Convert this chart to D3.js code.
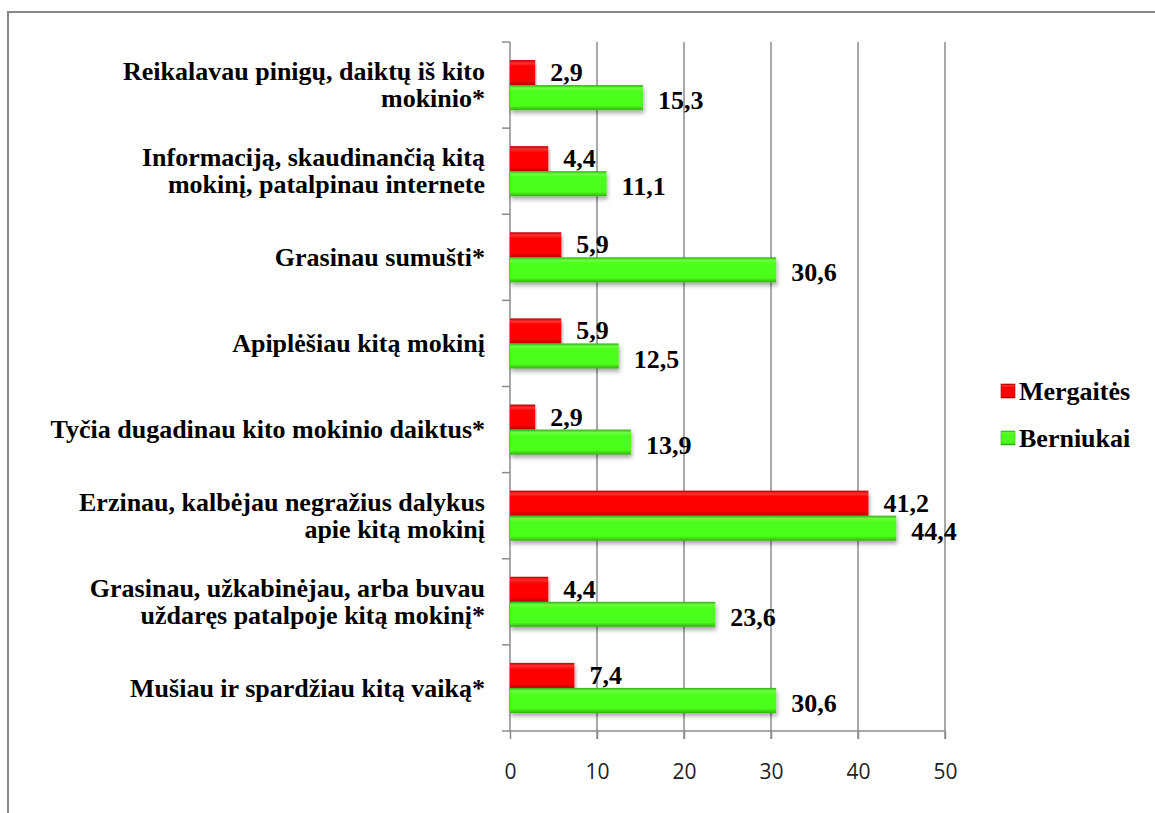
<!DOCTYPE html>
<html><head><meta charset="utf-8">
<script src="https://cdn.jsdelivr.net/npm/d3@7"></script>
<style>body{margin:0;background:#fff;}svg{display:block;}</style>
</head><body>
<script>
const categories = [
  ["Reikalavau pinigų, daiktų iš kito", "mokinio*"],
  ["Informaciją, skaudinančią kitą", "mokinį, patalpinau internete"],
  ["Grasinau sumušti*"],
  ["Apiplėšiau kitą mokinį"],
  ["Tyčia dugadinau kito mokinio daiktus*"],
  ["Erzinau, kalbėjau negražius dalykus", "apie kitą mokinį"],
  ["Grasinau, užkabinėjau, arba buvau", "uždaręs patalpoje kitą mokinį*"],
  ["Mušiau ir spardžiau kitą vaiką*"]
];
const girls = [2.9, 4.4, 5.9, 5.9, 2.9, 41.2, 4.4, 7.4];
const boys  = [15.3, 11.1, 30.6, 12.5, 13.9, 44.4, 23.6, 30.6];
const seriesNames = ["Mergaitės", "Berniukai"];
const xTicks = [0, 10, 20, 30, 40, 50];

const W = 1155, H = 813;
const svg = d3.select("body").append("svg").attr("width", W).attr("height", H);
const defs = svg.append("defs");

function grad(id, edge, mid, light) {
  const g = defs.append("linearGradient").attr("id", id).attr("x1",0).attr("y1",0).attr("x2",0).attr("y2",1);
  g.append("stop").attr("offset","0%").attr("stop-color", edge);
  g.append("stop").attr("offset","12%").attr("stop-color", light);
  g.append("stop").attr("offset","25%").attr("stop-color", mid);
  g.append("stop").attr("offset","82%").attr("stop-color", mid);
  g.append("stop").attr("offset","100%").attr("stop-color", edge);
}
grad("gRed", "#b80000", "#ff0000", "#ff3030");
grad("gGreen", "#33b011", "#4cff1a", "#6cff40");
const f = defs.append("filter").attr("id","sh").attr("x","-5%").attr("y","-30%").attr("width","110%").attr("height","180%");
f.append("feDropShadow").attr("dx",1).attr("dy",3).attr("stdDeviation",2).attr("flood-color","#000").attr("flood-opacity",0.35);

// outer border
svg.append("rect").attr("x",8).attr("y",12).attr("width",1160).attr("height",820)
  .attr("fill","none").attr("stroke","#888").attr("stroke-width",2);

const x0 = 510, x1 = 945, yTop = 42, yBot = 731;
const x = d3.scaleLinear().domain([0, 50]).range([x0, x1]);
const y = d3.scaleBand().domain(d3.range(categories.length)).range([yTop, yBot]);
const sub = d3.scaleBand().domain([0,1]).range([0, y.bandwidth()]).paddingOuter(0.72).paddingInner(0);

// gridlines
svg.append("g").selectAll("line").data(xTicks.slice(1)).join("line")
  .attr("x1", d => x(d)).attr("x2", d => x(d)).attr("y1", yTop).attr("y2", yBot + 8)
  .attr("stroke", "#8c8c8c").attr("stroke-width", 1.5);

// x axis
const xAxis = svg.append("g").attr("transform", `translate(0,${yBot})`)
  .call(d3.axisBottom(x).tickValues(xTicks).tickSize(8).tickPadding(25).tickSizeOuter(0));
xAxis.select(".domain").remove();
xAxis.selectAll(".tick line").attr("stroke", "#8c8c8c").attr("stroke-width", 1.5);
xAxis.selectAll("text").attr("font-family", "'Open Sans', Lato, sans-serif").attr("font-size", 21).attr("fill", "#222");
svg.append("line").attr("x1", x0 - 8).attr("x2", x1).attr("y1", yBot).attr("y2", yBot)
  .attr("stroke", "#8c8c8c").attr("stroke-width", 1.5);

// y axis
svg.append("line").attr("x1", x0).attr("x2", x0).attr("y1", yTop).attr("y2", yBot)
  .attr("stroke", "#8c8c8c").attr("stroke-width", 1.5);
svg.append("g").selectAll("line").data(d3.range(categories.length)).join("line")
  .attr("x1", x0 - 8).attr("x2", x0).attr("y1", d => y(d)).attr("y2", d => y(d))
  .attr("stroke", "#8c8c8c").attr("stroke-width", 1.5);

const serif = "'Liberation Serif', 'Times New Roman', serif";
const FS = 26;

// category labels
const lab = svg.append("g");
categories.forEach((lines, i) => {
  const cy = y(i) + y.bandwidth() / 2;
  const lh = 27;
  lines.forEach((t, j) => {
    lab.append("text").attr("x", 485).attr("y", cy + (j - (lines.length - 1) / 2) * lh)
      .attr("dy", "0.33em").attr("text-anchor", "end")
      .attr("font-family", serif).attr("font-weight", "bold").attr("font-size", FS).attr("fill", "#000").text(t);
  });
});

// bars
const series = [girls, boys];
const fills = ["url(#gRed)", "url(#gGreen)"];
series.forEach((vals, s) => {
  const g = svg.append("g");
  g.selectAll("rect").data(vals).join("rect")
    .attr("x", x(0)).attr("y", (d, i) => y(i) + sub(s))
    .attr("width", d => x(d) - x(0)).attr("height", sub.bandwidth())
    .attr("fill", fills[s]).attr("filter", "url(#sh)");
  g.selectAll("text").data(vals).join("text")
    .attr("x", d => x(d) + 15).attr("y", (d, i) => y(i) + sub(s) + sub.bandwidth() / 2 + (s === 1 ? 3 : 0))
    .attr("dy", "0.33em")
    .attr("font-family", serif).attr("font-weight", "bold").attr("font-size", FS).attr("fill", "#000")
    .text(d => d.toFixed(1).replace(".", ","));
});

// legend
const leg = svg.append("g");
seriesNames.forEach((n, i) => {
  const ly = 391 + i * 47;
  leg.append("rect").attr("x", 1001).attr("y", ly - 7).attr("width", 14).attr("height", 14)
    .attr("fill", fills[i]).attr("stroke", i === 0 ? "#b00000" : "#36b014").attr("stroke-width", 0.6);
  leg.append("text").attr("x", 1019).attr("y", ly).attr("dy", "0.33em")
    .attr("font-family", serif).attr("font-weight", "bold").attr("font-size", FS).attr("fill", "#000").text(n);
});
</script>
</body></html>
